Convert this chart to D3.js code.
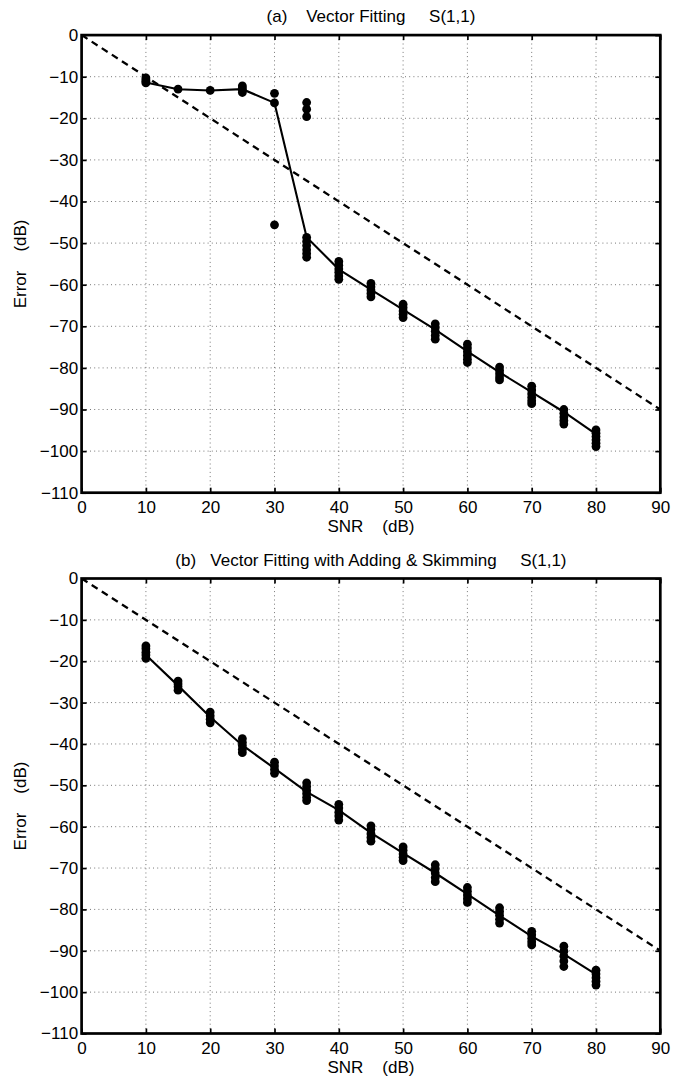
<!DOCTYPE html>
<html><head><meta charset="utf-8">
<script src="https://cdn.jsdelivr.net/npm/d3@7"></script>
<style>
body{margin:0;background:#fff}
svg text{font-family:"Liberation Sans",Arial,Helvetica,sans-serif;white-space:pre;fill:#000}
</style></head><body>
<svg id="c" width="686" height="1078"></svg>
<script>
// ---------- data ----------
const snr = [10,15,20,25,30,35,40,45,50,55,60,65,70,75,80];
const xTicks = [0,10,20,30,40,50,60,70,80,90];
const yTicks = [0,-10,-20,-30,-40,-50,-60,-70,-80,-90,-100,-110];
const refX = [0,90];
const refY = [0,-90];

const titleA = "(a)    Vector Fitting     S(1,1)";
const titleB = "(b)   Vector Fitting with Adding & Skimming     S(1,1)";
const xLabel = "SNR    (dB)";
const yLabel = "Error    (dB)";

const lineA = [-11.4,-13.0,-13.3,-13.0,-16.3,-48.6,-56.3,-61.2,-66.0,-70.8,-76.0,-81.1,-85.8,-90.6,-95.9];
const dotsA = [
  [-10.3,-10.8,-11.2,-11.5],
  [-13.0],
  [-13.3],
  [-12.2,-12.7,-13.2,-13.8],
  [-14.0,-16.3,-45.6],
  [-16.2,-17.8,-19.6,-48.6,-49.6,-50.6,-51.6,-52.5,-53.4],
  [-54.4,-55.3,-56.2,-57.0,-57.9,-58.7],
  [-59.7,-60.5,-61.3,-62.1,-62.9],
  [-64.7,-65.5,-66.3,-67.1,-67.9],
  [-69.4,-70.3,-71.2,-72.2,-73.1],
  [-74.3,-75.2,-76.1,-77.0,-77.9,-78.7],
  [-79.8,-80.6,-81.4,-82.2,-82.9],
  [-84.4,-85.3,-86.2,-87.1,-87.9,-88.6],
  [-90.0,-90.9,-91.8,-92.7,-93.5],
  [-94.9,-95.7,-96.5,-97.3,-98.1,-98.9]
];

const lineB = [-18.5,-25.9,-33.5,-40.3,-45.9,-51.6,-56.0,-61.5,-66.4,-71.2,-76.3,-81.5,-86.5,-90.8,-95.7];
const dotsB = [
  [-16.3,-17.0,-17.8,-18.5,-19.3],
  [-24.8,-25.5,-26.2,-27.0],
  [-32.3,-33.2,-34.0,-34.9],
  [-38.7,-39.6,-40.4,-41.3,-42.1],
  [-44.4,-45.3,-46.2,-47.1],
  [-49.4,-50.3,-51.2,-52.0,-52.9,-53.7],
  [-54.6,-55.5,-56.5,-57.4,-58.4],
  [-59.8,-60.7,-61.7,-62.6,-63.5],
  [-64.9,-65.7,-66.6,-67.4,-68.2],
  [-69.2,-70.2,-71.2,-72.3,-73.3],
  [-74.7,-75.6,-76.5,-77.4,-78.3],
  [-79.6,-80.5,-81.4,-82.4,-83.3],
  [-85.3,-86.1,-87.0,-87.8,-88.6],
  [-88.9,-90.1,-91.3,-92.5,-93.8],
  [-94.7,-95.6,-96.5,-97.4,-98.3]
];

// ---------- drawing ----------
const svg = d3.select("#c");
const FS = 17;
const L = 81.6, R = 660.3;

function panel(id, top, bottom, title, line, dots){
  const x = d3.scaleLinear().domain([0,90]).range([L,R]);
  const y = d3.scaleLinear().domain([-110,0]).range([bottom,top]);
  const g = svg.append("g");

  g.append("clipPath").attr("id","clip"+id).append("rect")
    .attr("x",L).attr("y",top).attr("width",R-L).attr("height",bottom-top);

  // grid
  g.selectAll(".gx").data(xTicks.slice(1,-1)).join("line")
    .attr("x1",d=>x(d)).attr("x2",d=>x(d)).attr("y1",top).attr("y2",bottom)
    .attr("stroke","#555").attr("stroke-width",0.8).attr("stroke-dasharray","1,3.2");
  g.selectAll(".gy").data(yTicks.slice(1,-1)).join("line")
    .attr("y1",d=>y(d)).attr("y2",d=>y(d)).attr("x1",L).attr("x2",R)
    .attr("stroke","#555").attr("stroke-width",0.8).attr("stroke-dasharray","1,3.2");

  const plot = g.append("g").attr("clip-path",`url(#clip${id})`);
  // reference dashed line
  plot.append("path")
    .attr("d", d3.line().x(d=>x(d[0])).y(d=>y(d[1]))(refX.map((v,i)=>[v,refY[i]])))
    .attr("fill","none").attr("stroke","#000").attr("stroke-width",2.3).attr("stroke-dasharray","7,5");
  // mean line
  plot.append("path")
    .attr("d", d3.line().x(d=>x(d[0])).y(d=>y(d[1]))(snr.map((s,i)=>[s,line[i]])))
    .attr("fill","none").attr("stroke","#000").attr("stroke-width",2.1);
  // markers
  const pts = [];
  snr.forEach((s,i)=>dots[i].forEach(v=>pts.push([s,v])));
  plot.selectAll("circle").data(pts).join("circle")
    .attr("cx",d=>x(d[0])).attr("cy",d=>y(d[1])).attr("r",4.4).attr("fill","#000");

  // axes
  const ax = (a)=>a.selectAll(".domain").remove();
  const b = g.append("g").attr("transform",`translate(0,${bottom})`)
    .call(d3.axisBottom(x).tickValues(xTicks).tickSize(-5).tickPadding(8));
  const l = g.append("g").attr("transform",`translate(${L},0)`)
    .call(d3.axisLeft(y).tickValues(yTicks).tickSize(-5).tickPadding(3.5));
  const t = g.append("g").attr("transform",`translate(0,${top})`)
    .call(d3.axisTop(x).tickValues(xTicks).tickSize(-5).tickFormat(""));
  const r = g.append("g").attr("transform",`translate(${R},0)`)
    .call(d3.axisRight(y).tickValues(yTicks).tickSize(-5).tickFormat(""));
  [b,l,t,r].forEach(a=>{
    ax(a);
    a.selectAll("line").attr("stroke","#000").attr("stroke-width",1.7);
    a.selectAll("text").attr("font-size",FS).attr("font-family",null).style("fill","#000");
  });

  // frame
  g.append("rect").attr("x",L).attr("y",top).attr("width",R-L).attr("height",bottom-top)
    .attr("fill","none").attr("stroke","#000").attr("stroke-width",2.7);

  // texts
  g.append("text").attr("x",(L+R)/2).attr("y",top-13).attr("text-anchor","middle")
    .attr("font-size",FS).text(title);
  g.append("text").attr("x",(L+R)/2).attr("y",bottom+39.5).attr("text-anchor","middle")
    .attr("font-size",FS).text(xLabel);
  g.append("text").attr("transform",`translate(26,${(top+bottom)/2}) rotate(-90)`)
    .attr("text-anchor","middle").attr("font-size",FS).text(yLabel);
}

panel("a", 35.1, 492.7, titleA, lineA, dotsA);
panel("b", 578.5, 1033.5, titleB, lineB, dotsB);
</script>
</body></html>
